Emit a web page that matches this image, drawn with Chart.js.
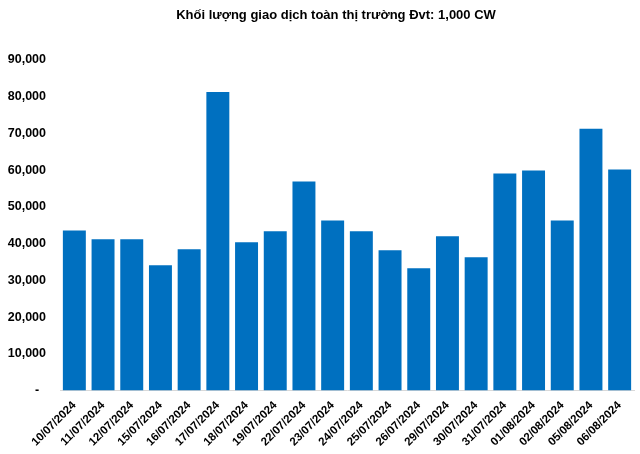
<!DOCTYPE html>
<html>
<head>
<meta charset="utf-8">
<script src="https://cdn.jsdelivr.net/npm/chart.js@4/dist/chart.umd.min.js"></script>
<style>
  html, body { margin: 0; padding: 0; background: #fff; }
  #wrap { width: 640px; height: 454px; }
</style>
</head>
<body>
<div id="wrap"><canvas id="chart"></canvas></div>
<script>
// Dữ liệu
var ngay = ['10/07/2024', '11/07/2024', '12/07/2024', '15/07/2024', '16/07/2024',
            '17/07/2024', '18/07/2024', '19/07/2024', '22/07/2024', '23/07/2024',
            '24/07/2024', '25/07/2024', '26/07/2024', '29/07/2024', '30/07/2024',
            '31/07/2024', '01/08/2024', '02/08/2024', '05/08/2024', '06/08/2024'];
var khoiLuong = [43600, 41200, 41200, 34100, 38500,
                 81300, 40400, 43400, 56900, 46300,
                 43400, 38200, 33300, 42000, 36300,
                 59100, 59900, 46300, 71300, 60200];
var tieuDe = 'Khối lượng giao dịch toàn thị trường Đvt: 1,000 CW';
var yMax = 90000;
var yBuoc = 10000;

var FONT = 'Arial, "Liberation Sans", sans-serif';

// Vẽ tiêu đề
var titlePlugin = {
  id: 'tieuDe',
  afterDraw: function(chart) {
    var ctx = chart.ctx;
    ctx.save();
    ctx.font = 'bold 13px ' + FONT;
    ctx.fillStyle = '#000';
    ctx.textAlign = 'center';
    ctx.textBaseline = 'middle';
    ctx.fillText(tieuDe, 336, 15);
    ctx.restore();
  }
};

new Chart(document.getElementById('chart'), {
  type: 'bar',
  data: {
    labels: ngay,
    datasets: [{
      data: khoiLuong,
      backgroundColor: '#0070C0',
      barPercentage: 0.8,
      categoryPercentage: 1.0
    }]
  },
  options: {
    responsive: true,
    maintainAspectRatio: false,
    animation: false,
    layout: { padding: { top: 60, right: 6, bottom: 5, left: 0 } },
    plugins: {
      legend: { display: false },
      tooltip: { enabled: false }
    },
    scales: {
      x: {
        grid: { display: false },
        border: { display: true, color: '#d9d9d9', width: 1 },
        ticks: {
          color: '#000',
          font: { family: FONT, size: 11.5, weight: 'bold' },
          minRotation: 45,
          maxRotation: 45,
          autoSkip: false,
          padding: 0
        }
      },
      y: {
        min: 0,
        max: yMax,
        grid: { display: false },
        border: { display: false },
        afterFit: function(scale) { scale.width = 60; },
        ticks: {
          stepSize: yBuoc,
          color: '#000',
          padding: 6,
          font: { family: FONT, size: 12.5, weight: 'bold' },
          callback: function(v) {
            if (v === 0) return '-  ';
            return v.toLocaleString('en-US');
          }
        }
      }
    }
  },
  plugins: [titlePlugin]
});
</script>
</body>
</html>
